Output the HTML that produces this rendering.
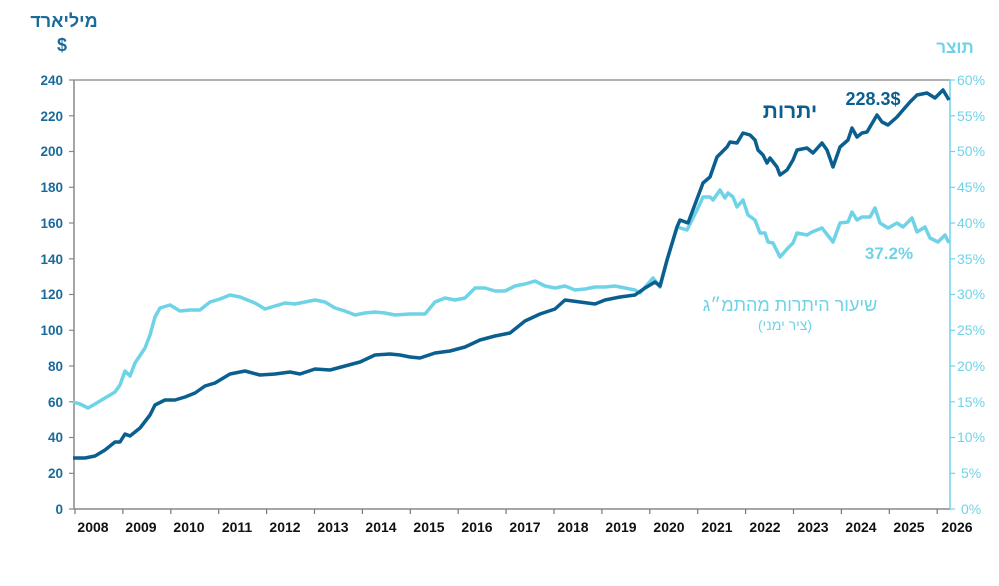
<!DOCTYPE html>
<html><head><meta charset="utf-8"><style>
body{margin:0;background:#fff}
svg text{font-family:"Liberation Sans","Noto Sans CJK SC",sans-serif}
</style></head><body>
<svg width="999" height="581" viewBox="0 0 999 581" xmlns="http://www.w3.org/2000/svg">
<line x1="74" y1="80" x2="950" y2="80" stroke="#999" stroke-width="1.5"/>
<line x1="74" y1="80" x2="74" y2="509" stroke="#888" stroke-width="1.5"/>
<line x1="74" y1="509" x2="950" y2="509" stroke="#888" stroke-width="1.5"/>
<line x1="950" y1="80" x2="950" y2="509" stroke="#6fd3e8" stroke-width="1.5"/>
<g stroke="#888" stroke-width="1.2">
<line x1="69" y1="80" x2="74" y2="80"/><line x1="69" y1="115.8" x2="74" y2="115.8"/><line x1="69" y1="151.5" x2="74" y2="151.5"/><line x1="69" y1="187.3" x2="74" y2="187.3"/><line x1="69" y1="223" x2="74" y2="223"/><line x1="69" y1="258.8" x2="74" y2="258.8"/><line x1="69" y1="294.5" x2="74" y2="294.5"/><line x1="69" y1="330.3" x2="74" y2="330.3"/><line x1="69" y1="366" x2="74" y2="366"/><line x1="69" y1="401.8" x2="74" y2="401.8"/><line x1="69" y1="437.5" x2="74" y2="437.5"/><line x1="69" y1="473.3" x2="74" y2="473.3"/><line x1="69" y1="509" x2="74" y2="509"/>
</g>
<g stroke="#6fd3e8" stroke-width="1.2">
<line x1="950" y1="80" x2="955" y2="80"/><line x1="950" y1="115.8" x2="955" y2="115.8"/><line x1="950" y1="151.5" x2="955" y2="151.5"/><line x1="950" y1="187.3" x2="955" y2="187.3"/><line x1="950" y1="223" x2="955" y2="223"/><line x1="950" y1="258.8" x2="955" y2="258.8"/><line x1="950" y1="294.5" x2="955" y2="294.5"/><line x1="950" y1="330.3" x2="955" y2="330.3"/><line x1="950" y1="366" x2="955" y2="366"/><line x1="950" y1="401.8" x2="955" y2="401.8"/><line x1="950" y1="437.5" x2="955" y2="437.5"/><line x1="950" y1="473.3" x2="955" y2="473.3"/><line x1="950" y1="509" x2="955" y2="509"/>
</g>
<g stroke="#777" stroke-width="1.2">
<line x1="75" y1="509" x2="75" y2="514"/><line x1="122.9" y1="509" x2="122.9" y2="514"/><line x1="170.8" y1="509" x2="170.8" y2="514"/><line x1="218.7" y1="509" x2="218.7" y2="514"/><line x1="266.6" y1="509" x2="266.6" y2="514"/><line x1="314.5" y1="509" x2="314.5" y2="514"/><line x1="362.4" y1="509" x2="362.4" y2="514"/><line x1="410.3" y1="509" x2="410.3" y2="514"/><line x1="458.2" y1="509" x2="458.2" y2="514"/><line x1="506.1" y1="509" x2="506.1" y2="514"/><line x1="554" y1="509" x2="554" y2="514"/><line x1="601.9" y1="509" x2="601.9" y2="514"/><line x1="649.8" y1="509" x2="649.8" y2="514"/><line x1="697.7" y1="509" x2="697.7" y2="514"/><line x1="745.6" y1="509" x2="745.6" y2="514"/><line x1="793.5" y1="509" x2="793.5" y2="514"/><line x1="841.4" y1="509" x2="841.4" y2="514"/><line x1="889.3" y1="509" x2="889.3" y2="514"/><line x1="937.2" y1="509" x2="937.2" y2="514"/>
</g>
<g font-size="13.5" font-weight="bold" fill="#1a6a9c" text-anchor="end">
<text x="63" y="85">240</text><text x="63" y="121">220</text><text x="63" y="156">200</text><text x="63" y="192">180</text><text x="63" y="228">160</text><text x="63" y="264">140</text><text x="63" y="299">120</text><text x="63" y="335">100</text><text x="63" y="371">80</text><text x="63" y="407">60</text><text x="63" y="442">40</text><text x="63" y="478">20</text><text x="63" y="514">0</text>
</g>
<g font-size="14" fill="#6fd3e8" text-anchor="start">
<text x="957" y="85">60%</text><text x="957" y="121">55%</text><text x="957" y="156">50%</text><text x="957" y="192">45%</text><text x="957" y="228">40%</text><text x="957" y="264">35%</text><text x="957" y="299">30%</text><text x="957" y="335">25%</text><text x="957" y="371">20%</text><text x="957" y="407">15%</text><text x="957" y="442">10%</text><text x="961" y="478">5%</text><text x="961" y="514">0%</text>
</g>
<g font-size="14" font-weight="bold" fill="#111" text-anchor="middle">
<text x="93" y="532">2008</text><text x="141" y="532">2009</text><text x="189" y="532">2010</text><text x="237" y="532">2011</text><text x="285" y="532">2012</text><text x="333" y="532">2013</text><text x="381" y="532">2014</text><text x="429" y="532">2015</text><text x="477" y="532">2016</text><text x="525" y="532">2017</text><text x="573" y="532">2018</text><text x="621" y="532">2019</text><text x="669" y="532">2020</text><text x="717" y="532">2021</text><text x="765" y="532">2022</text><text x="813" y="532">2023</text><text x="861" y="532">2024</text><text x="909" y="532">2025</text><text x="957" y="532">2026</text>
</g>
<text x="64" y="27" font-size="18" font-weight="bold" fill="#1a6a9c" text-anchor="middle">מיליארד</text>
<text x="62" y="51" font-size="18" font-weight="bold" fill="#1a6a9c" text-anchor="middle">$</text>
<text x="955" y="53" font-size="17" font-weight="bold" fill="#6fd3e8" text-anchor="middle">תוצר</text>
<polyline fill="none" stroke="#6fd3e8" stroke-width="3.5" stroke-linejoin="round" points="73,402 80,404 88,408 95,404 105,398 115,392 120,385 125,371 130,376 135,363 145,348 150,335 155,317 160,308 170,305 175,308 180,311 190,310 200,310 210,302 220,299 230,295 240,297 245,299 255,303 265,309 275,306 285,303 295,304 305,302 315,300 325,302 335,308 345,311 355,315 365,313 375,312 385,313 395,315 410,314 425,314 435,302 445,298 455,300 465,298 475,288 485,288 495,291 505,291 515,286 525,284 535,281 545,286 555,288 565,286 575,290 585,289 595,287 605,287 615,286 625,288 635,290 640,293 653,278 660,287 668,257 677,227 687,230 697,210 703,197 710,197 713,200 720,190 725,198 728,193 733,197 737,207 743,200 748,215 755,220 760,233 765,233 768,242 773,243 780,257 788,248 793,243 797,233 807,235 812,232 822,228 833,242 840,223 848,222 852,212 857,220 862,217 870,217 875,208 880,223 888,228 897,223 903,227 912,218 917,232 925,227 930,238 938,242 945,235 949,243"/>
<polyline fill="none" stroke="#0b5f8e" stroke-width="3.5" stroke-linejoin="round" points="73,458 85,458 95,456 105,450 115,442 120,442 125,434 130,436 140,428 150,415 155,405 165,400 175,400 185,397 195,393 205,386 215,383 230,374 245,371 260,375 275,374 290,372 300,374 315,369 330,370 345,366 360,362 375,355 390,354 400,355 410,357 420,358 435,353 450,351 465,347 480,340 495,336 510,333 525,321 540,314 555,309 565,300 580,302 595,304 605,300 620,297 635,295 645,288 650,285 655,282 660,286 667,260 677,227 680,220 688,223 703,183 710,177 717,157 727,147 730,142 737,143 743,133 750,135 755,140 758,150 763,155 767,163 770,158 777,167 780,175 787,170 793,160 797,150 807,148 813,153 822,143 827,150 833,167 840,147 848,140 852,128 857,137 862,133 867,132 877,115 882,122 888,125 897,117 903,110 910,102 917,95 927,93 935,98 943,90 949,100"/>
<text x="790" y="118" font-size="21" font-weight="bold" fill="#0b5f8e" text-anchor="middle">יתרות</text>
<text x="873" y="105" font-size="18" font-weight="bold" fill="#0b5f8e" text-anchor="middle">228.3$</text>
<text x="889" y="259" font-size="17" font-weight="bold" fill="#6fd3e8" text-anchor="middle">37.2%</text>
<text x="790" y="311" font-size="18" fill="#6fd3e8" text-anchor="middle">שיעור היתרות מהתמ״ג</text>
<text x="785" y="330" font-size="14" fill="#6fd3e8" text-anchor="middle">(ציר ימני)</text>
</svg>
</body></html>
